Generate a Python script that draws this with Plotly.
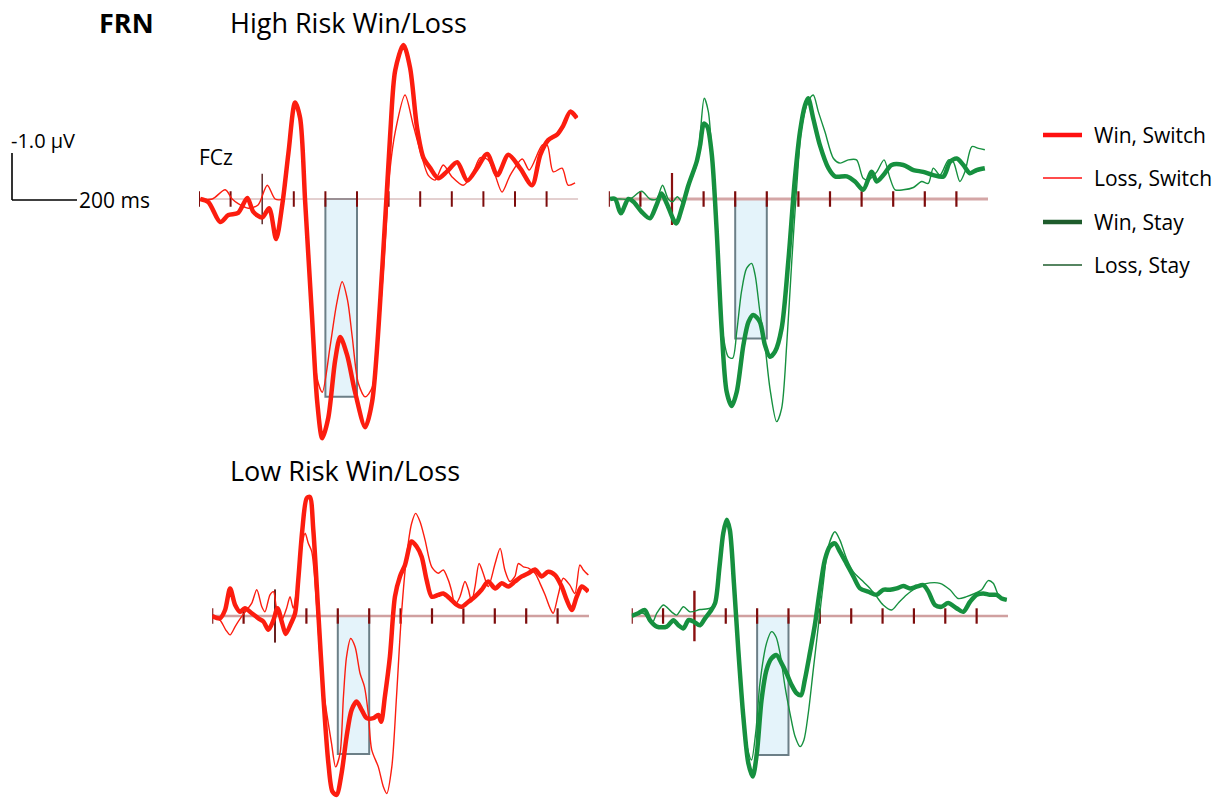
import plotly.graph_objects as go

# ---------------- data (time in ms, amplitude in microvolts; negative plotted up) ----------------
TICK_TIMES = [-200, -100, 100, 200, 300, 400, 500, 600, 700, 800, 900]
ZERO_TIME = [0]
WINDOW = [200, 300]  # FRN window (ms)
BOX_DEPTH = {"hr_switch": 4.3, "hr_stay": 3.03, "lr_switch": 3.0, "lr_stay": 3.02}

# High risk, switch
T_HR_WIN_SWITCH = [-196, -170, -133, -107, -76, -47, -28, 0, 22, 44, 64, 83, 104, 120, 136, 158, 174, 190, 209,
                   231, 247, 269, 294, 326, 348, 380, 405, 421, 447, 468, 490, 510, 532, 557, 585, 617, 649, 680,
                   712, 744, 779, 816, 854, 880, 905, 933, 953, 975, 996]
V_HR_WIN_SWITCH = [0, 0.07, 0.5, 0.35, 0.3, -0.02, 0.28, 0.4, 0.2, 0.87, 0.1, -1.0, -2.1, -1.76, 0.07, 2.6, 4.4,
                   5.2, 4.76, 3.5, 3.0, 3.4, 4.2, 4.96, 4.4, 1.5, -1.4, -2.8, -3.35, -2.85, -1.55, -0.9, -0.67,
                   -0.45, -0.6, -0.8, -0.4, -0.67, -0.98, -0.52, -0.96, -0.67, -0.3, -0.96, -1.28, -1.4, -1.6,
                   -1.9, -1.76]
T_HR_LOSS_SWITCH = [-196, -158, -117, -95, -76, -44, -13, 16, 41, 64, 83, 104, 120, 136, 158, 174, 190, 215, 235,
                    253, 270, 285, 304, 326, 348, 380, 405, 421, 452, 478, 506, 525, 547, 573, 601, 636, 664, 690,
                    715, 737, 759, 785, 823, 845, 886, 902, 921, 949, 968, 990]
V_HR_LOSS_SWITCH = [0, 0, -0.2, 0, 0.1, 0.2, 0.13, -0.3, 0, 0, -1.0, -2.1, -1.76, 0.07, 2.5, 3.9, 4.2, 3.2, 2.3,
                    1.8, 2.2, 3.0, 4.0, 4.3, 4.1, 1.87, -0.67, -1.46, -2.26, -1.6, -0.9, -0.52, -0.41, -0.74,
                    -0.48, -0.3, -0.52, -0.9, -0.85, -0.52, -0.15, -0.52, -0.87, -0.63, -1.17, -1.17, -0.59,
                    -0.67, -0.3, -0.35]

# High risk, stay
T_HR_WIN_STAY = [-196, -180, -162, -138, -122, -96, -70, -49, -33, -17, 13, 31, 52, 78, 89, 101, 112, 126, 141,
                 157, 173, 189, 205, 226, 242, 257, 278, 294, 310, 326, 347, 368, 389, 405, 421, 431, 447, 468,
                 495, 516, 553, 579, 605, 632, 648, 669, 695, 732, 764, 795, 827, 859, 880, 901, 922, 943, 964, 990]
V_HR_WIN_STAY = [0, 0, 0.31, 0, 0.06, 0.28, 0.42, 0.13, -0.12, 0.09, 0.53, 0.2, -0.3, -0.81, -1.17, -1.64, -1.57,
                 -0.96, 0.64, 2.81, 4.19, 4.5, 4.19, 3.17, 2.67, 2.52, 2.67, 3.17, 3.43, 3.32, 2.81, 1.36, -0.45,
                 -1.46, -2.04, -2.19, -1.75, -1.17, -0.67, -0.49, -0.49, -0.38, -0.2, -0.59, -0.38, -0.52, -0.74,
                 -0.74, -0.63, -0.59, -0.52, -0.49, -0.81, -0.88, -0.74, -0.56, -0.63, -0.67]
T_HR_LOSS_STAY = [-196, -165, -133, -96, -70, -49, -30, -12, 2, 17, 36, 57, 78, 89, 102, 115, 131, 147, 162, 178,
                  192, 205, 220, 236, 252, 263, 278, 294, 310, 331, 347, 363, 379, 395, 410, 431, 447, 463, 484,
                  511, 532, 558, 584, 605, 621, 648, 671, 690, 706, 732, 764, 790, 811, 827, 848, 875, 890, 911,
                  927, 949, 970, 990]
V_HR_LOSS_STAY = [0, 0, 0, -0.17, 0, 0, -0.3, 0, 0.06, -0.05, 0.09, -0.38, -0.74, -1.39, -2.19, -1.9, -0.45, 1.36,
                  2.96, 3.43, 3.46, 2.88, 2.01, 1.51, 1.4, 1.65, 2.45, 3.17, 4.12, 4.84, 4.55, 3.17, 1.36, -0.3,
                  -1.54, -2.12, -2.26, -1.9, -1.46, -0.88, -0.78, -0.85, -0.85, -0.45, -0.41, -0.59, -0.85, -0.45,
                  -0.2, -0.2, -0.25, -0.38, -0.34, -0.67, -0.52, -0.85, -0.81, -0.38, -0.59, -1.14, -1.1, -1.07]

# Low risk, switch
T_LR_WIN_SWITCH = [-200, -175, -159, -143, -127, -111, -96, -74, -53, -37, -21, -5, 8, 23, 34, 51, 64, 74, 87,
                   101, 111, 122, 138, 154, 170, 183, 196, 212, 228, 244, 260, 276, 292, 313, 329, 338, 350, 366,
                   382, 398, 414, 435, 451, 467, 483, 499, 520, 536, 557, 579, 594, 616, 637, 658, 679, 701, 722,
                   743, 764, 786, 807, 828, 849, 870, 892, 913, 929, 945, 961, 977, 998]
V_LR_WIN_SWITCH = [0, 0.05, -0.13, -0.6, -0.24, -0.09, -0.17, -0.06, 0.05, 0.12, 0.3, 0.09, -0.17, 0.16, 0.39,
                   0.16, -0.06, -0.78, -1.87, -2.56, -2.59, -1.87, -0.06, 1.75, 3.2, 3.82, 3.89, 3.42, 2.62, 2.04,
                   1.86, 2.04, 2.22, 2.22, 2.15, 2.3, 1.75, 0.88, -0.42, -0.86, -1.11, -1.62, -1.51, -1.29, -0.78,
                   -0.42, -0.46, -0.49, -0.38, -0.24, -0.2, -0.31, -0.42, -0.57, -0.75, -0.6, -0.71, -0.64, -0.75,
                   -0.86, -0.93, -1.01, -0.86, -0.96, -0.89, -0.64, -0.35, -0.13, -0.42, -0.64, -0.53]
T_LR_LOSS_SWITCH = [-200, -175, -157, -143, -127, -106, -90, -74, -58, -42, -32, -16, -5, 5, 21, 37, 48, 58, 69,
                    85, 96, 106, 117, 133, 149, 165, 180, 193, 207, 218, 228, 241, 255, 271, 285, 297, 308, 329,
                    345, 356, 372, 387, 403, 419, 435, 448, 462, 478, 499, 520, 536, 552, 563, 573, 589, 605, 616,
                    626, 637, 650, 663, 679, 701, 717, 732, 748, 764, 775, 791, 807, 828, 844, 860, 876, 886, 902,
                    918, 939, 955, 971, 982, 998]
V_LR_LOSS_SWITCH = [0, 0.09, 0.3, 0.41, 0.23, 0.01, -0.13, -0.28, -0.57, -0.2, -0.09, -0.46, -0.53, -0.17, 0.09,
                    -0.17, -0.42, -0.17, -0.57, -1.51, -1.8, -1.58, -1.4, -0.2, 1.39, 2.12, 2.77, 3.28, 2.99, 1.75,
                    0.88, 0.49, 0.67, 1.25, 1.54, 2.12, 2.91, 3.28, 3.71, 3.86, 3.28, 1.75, -0.06, -1.29, -2.01,
                    -2.23, -2.05, -1.65, -1.07, -0.93, -1.0, -0.78, -0.53, -0.24, -0.42, -0.75, -0.57, -0.31,
                    -0.64, -1.14, -0.93, -0.64, -1.14, -1.47, -1.0, -0.75, -0.86, -1.14, -1.07, -1.04, -0.93,
                    -0.71, -0.46, -0.17, -0.06, -0.46, -0.82, -0.67, -0.49, -1.11, -1.0, -0.89]

# Low risk, stay
T_LR_WIN_STAY = [-200, -179, -158, -142, -120, -88, -67, -51, -35, -19, -3, 18, 34, 50, 66, 80, 92, 103, 113, 126,
                 140, 156, 172, 186, 199, 214, 230, 246, 262, 278, 294, 310, 326, 340, 352, 368, 384, 400, 416, 432,
                 448, 464, 485, 507, 528, 554, 581, 602, 624, 645, 666, 688, 709, 730, 746, 767, 788, 809, 836, 857,
                 879, 900, 921, 942, 964, 980, 996]
V_LR_WIN_STAY = [0, -0.06, -0.13, 0.09, 0.23, 0.23, 0.09, 0.2, 0.27, 0.09, 0.12, 0.2, 0.05, -0.09, -0.28, -1.07,
                 -1.8, -2.09, -1.87, -0.71, 0.74, 2.19, 3.2, 3.49, 2.99, 1.83, 1.17, 0.92, 0.85, 1.03, 1.25, 1.5,
                 1.68, 1.72, 1.39, 0.81, 0.2, -0.57, -1.22, -1.51, -1.58, -1.4, -1.14, -0.86, -0.6, -0.53, -0.46,
                 -0.57, -0.57, -0.6, -0.65, -0.6, -0.64, -0.67, -0.53, -0.24, -0.2, -0.28, -0.17, -0.09, -0.31,
                 -0.46, -0.49, -0.46, -0.46, -0.38, -0.35]
T_LR_LOSS_STAY = [-200, -163, -136, -120, -99, -73, -57, -35, -14, 18, 50, 66, 80, 92, 103, 113, 126, 140, 156,
                  170, 182, 196, 209, 230, 246, 260, 273, 289, 305, 321, 337, 349, 363, 379, 395, 411, 427, 448,
                  464, 485, 507, 533, 560, 581, 602, 629, 650, 677, 698, 724, 751, 783, 815, 841, 868, 894, 916,
                  937, 953, 969, 985, 996]
V_LR_LOSS_STAY = [0, -0.06, 0.16, -0.06, -0.24, -0.09, -0.02, -0.2, -0.09, -0.14, -0.17, -0.28, -1.07, -1.8,
                  -2.09, -1.87, -0.71, 0.74, 2.1, 2.9, 3.13, 2.5, 1.46, 0.59, 0.34, 0.45, 0.81, 1.54, 2.12, 2.62,
                  2.84, 2.7, 2.12, 1.17, 0.23, -0.71, -1.51, -1.83, -1.65, -1.25, -0.96, -0.78, -0.6, -0.42,
                  -0.24, -0.13, -0.28, -0.46, -0.57, -0.67, -0.72, -0.71, -0.57, -0.38, -0.42, -0.49, -0.57,
                  -0.77, -0.71, -0.46, -0.35, -0.35]

SERIES_NAMES = ["Win, Switch", "Loss, Switch", "Win, Stay", "Loss, Stay"]
TITLES = ["High Risk Win/Loss", "Low Risk Win/Loss"]

# ---------------- styling / layout helpers ----------------
W, H = 1225, 799
K = 46.0  # pixels per microvolt
RED = "#fc1d0f"
GREEN = "#16903f"
LEG_RED = "#ff1010"
LEG_GREEN = "#1e5c2c"
TICK_COL = "#7d0c0c"
FONT = "Open Sans"


def pxx(x):
    return x / W


def pxy(y):
    return 1 - y / H


# panel geometry: (x of -200 ms, x of 1000 ms, baseline y, top y, bottom y)
PANELS = [
    dict(key="hr_switch", xl=199.0, xr=578.2, base=199.0, top=30, bot=455,
         traces=[(T_HR_LOSS_SWITCH, V_HR_LOSS_SWITCH, RED, 1.4), (T_HR_WIN_SWITCH, V_HR_WIN_SWITCH, RED, 4.5)],
         base_w=1.0, base_c="#c8a0a0", tick_w=2.0, zero_size=36, zero_c="#5e2a2a", zero_w=1.5),
    dict(key="hr_stay", xl=608.8, xr=988.0, base=199.0, top=30, bot=455,
         traces=[(T_HR_LOSS_STAY, V_HR_LOSS_STAY, GREEN, 1.4), (T_HR_WIN_STAY, V_HR_WIN_STAY, GREEN, 4.5)],
         base_w=3.0, base_c="#d4a6a6", tick_w=2.2, zero_size=37, zero_c="#8a1010", zero_w=2.2),
    dict(key="lr_switch", xl=212.2, xr=589.0, base=616.0, top=470, bot=799,
         traces=[(T_LR_LOSS_SWITCH, V_LR_LOSS_SWITCH, RED, 1.4), (T_LR_WIN_SWITCH, V_LR_WIN_SWITCH, RED, 4.5)],
         base_w=2.5, base_c="#d0a0a0", tick_w=2.2, zero_size=38, zero_c="#6a2020", zero_w=2.0),
    dict(key="lr_stay", xl=631.7, xr=1008.0, base=616.0, top=470, bot=799,
         traces=[(T_LR_LOSS_STAY, V_LR_LOSS_STAY, GREEN, 1.4), (T_LR_WIN_STAY, V_LR_WIN_STAY, GREEN, 4.5)],
         base_w=2.5, base_c="#d0a0a0", tick_w=2.2, zero_size=36, zero_c="#8a1010", zero_w=2.4),
]

fig = go.Figure()
layout = dict(width=W, height=H, margin=dict(l=0, r=0, t=0, b=0), autosize=False,
              paper_bgcolor="white", plot_bgcolor="rgba(0,0,0,0)", showlegend=False)
shapes = []
annotations = []

for i, p in enumerate(PANELS):
    s = "" if i == 0 else str(i + 1)
    xa, ya = "x" + s, "y" + s
    layout["xaxis" + s] = dict(domain=[pxx(p["xl"]), pxx(p["xr"])], range=[-200, 1000], visible=False,
                               anchor=ya, fixedrange=True)
    layout["yaxis" + s] = dict(domain=[pxy(p["bot"]), pxy(p["top"])],
                               range=[(p["bot"] - p["base"]) / K, (p["top"] - p["base"]) / K],
                               visible=False, anchor=xa, fixedrange=True)
    # FRN window box
    shapes.append(dict(type="rect", xref=xa, yref=ya, x0=WINDOW[0], x1=WINDOW[1], y0=0, y1=BOX_DEPTH[p["key"]],
                       fillcolor="#e4f3fa", line=dict(color="#6c7f87", width=2), layer="below"))
    # baseline
    fig.add_trace(go.Scatter(x=[-200, 1000], y=[0, 0], mode="lines", xaxis=xa, yaxis=ya,
                             line=dict(color=p["base_c"], width=p["base_w"]), hoverinfo="skip"))
    # ticks
    fig.add_trace(go.Scatter(x=TICK_TIMES, y=[0] * len(TICK_TIMES), mode="markers", xaxis=xa, yaxis=ya,
                             marker=dict(symbol="line-ns", size=11, line=dict(color=TICK_COL, width=p["tick_w"])),
                             hoverinfo="skip"))
    fig.add_trace(go.Scatter(x=ZERO_TIME, y=[0], mode="markers", xaxis=xa, yaxis=ya,
                             marker=dict(symbol="line-ns", size=p["zero_size"],
                                         line=dict(color=p["zero_c"], width=p["zero_w"])),
                             hoverinfo="skip"))
    for t, v, c, w in p["traces"]:
        fig.add_trace(go.Scatter(x=t, y=v, mode="lines", xaxis=xa, yaxis=ya,
                                 line=dict(color=c, width=w, shape="spline", smoothing=0.8),
                                 hoverinfo="skip"))

# ---------------- text ----------------
def text(s, x, y, size, anchor="left", bold=False):
    annotations.append(dict(text=("<b>%s</b>" % s) if bold else s, x=pxx(x), y=pxy(y), xref="paper",
                            yref="paper", xanchor=anchor, yanchor="middle", showarrow=False,
                            font=dict(family=FONT, size=size, color="black")))


text("FRN", 97, 22, 27, bold=True)
text(TITLES[0], 228, 22, 27)
text(TITLES[1], 228, 470, 27)
text("-1.0 µV", 9, 140, 20)
text("FCz", 197, 157, 21)
text("200 ms", 77, 200, 21)

# scale bar
shapes.append(dict(type="line", xref="paper", yref="paper", x0=pxx(12), x1=pxx(12), y0=pxy(153), y1=pxy(200),
                   line=dict(color="black", width=1.6)))
shapes.append(dict(type="line", xref="paper", yref="paper", x0=pxx(12), x1=pxx(77), y0=pxy(200), y1=pxy(200),
                   line=dict(color="black", width=1.6)))

# legend
LEG_Y = [135, 178, 222, 265]
LEG_STYLE = [(LEG_RED, 4.5), (LEG_RED, 1.5), (LEG_GREEN, 4.5), (LEG_GREEN, 1.5)]
for name, yy, (c, w) in zip(SERIES_NAMES, LEG_Y, LEG_STYLE):
    shapes.append(dict(type="line", xref="paper", yref="paper", x0=pxx(1043), x1=pxx(1082), y0=pxy(yy),
                       y1=pxy(yy), line=dict(color=c, width=w)))
    text(name, 1092, yy, 21)

layout["shapes"] = shapes
layout["annotations"] = annotations
fig.update_layout(**layout)
fig.write_html("out.html", config={"displayModeBar": False, "staticPlot": True},
               post_script="document.body.style.margin='0';document.body.style.overflow='hidden';")
